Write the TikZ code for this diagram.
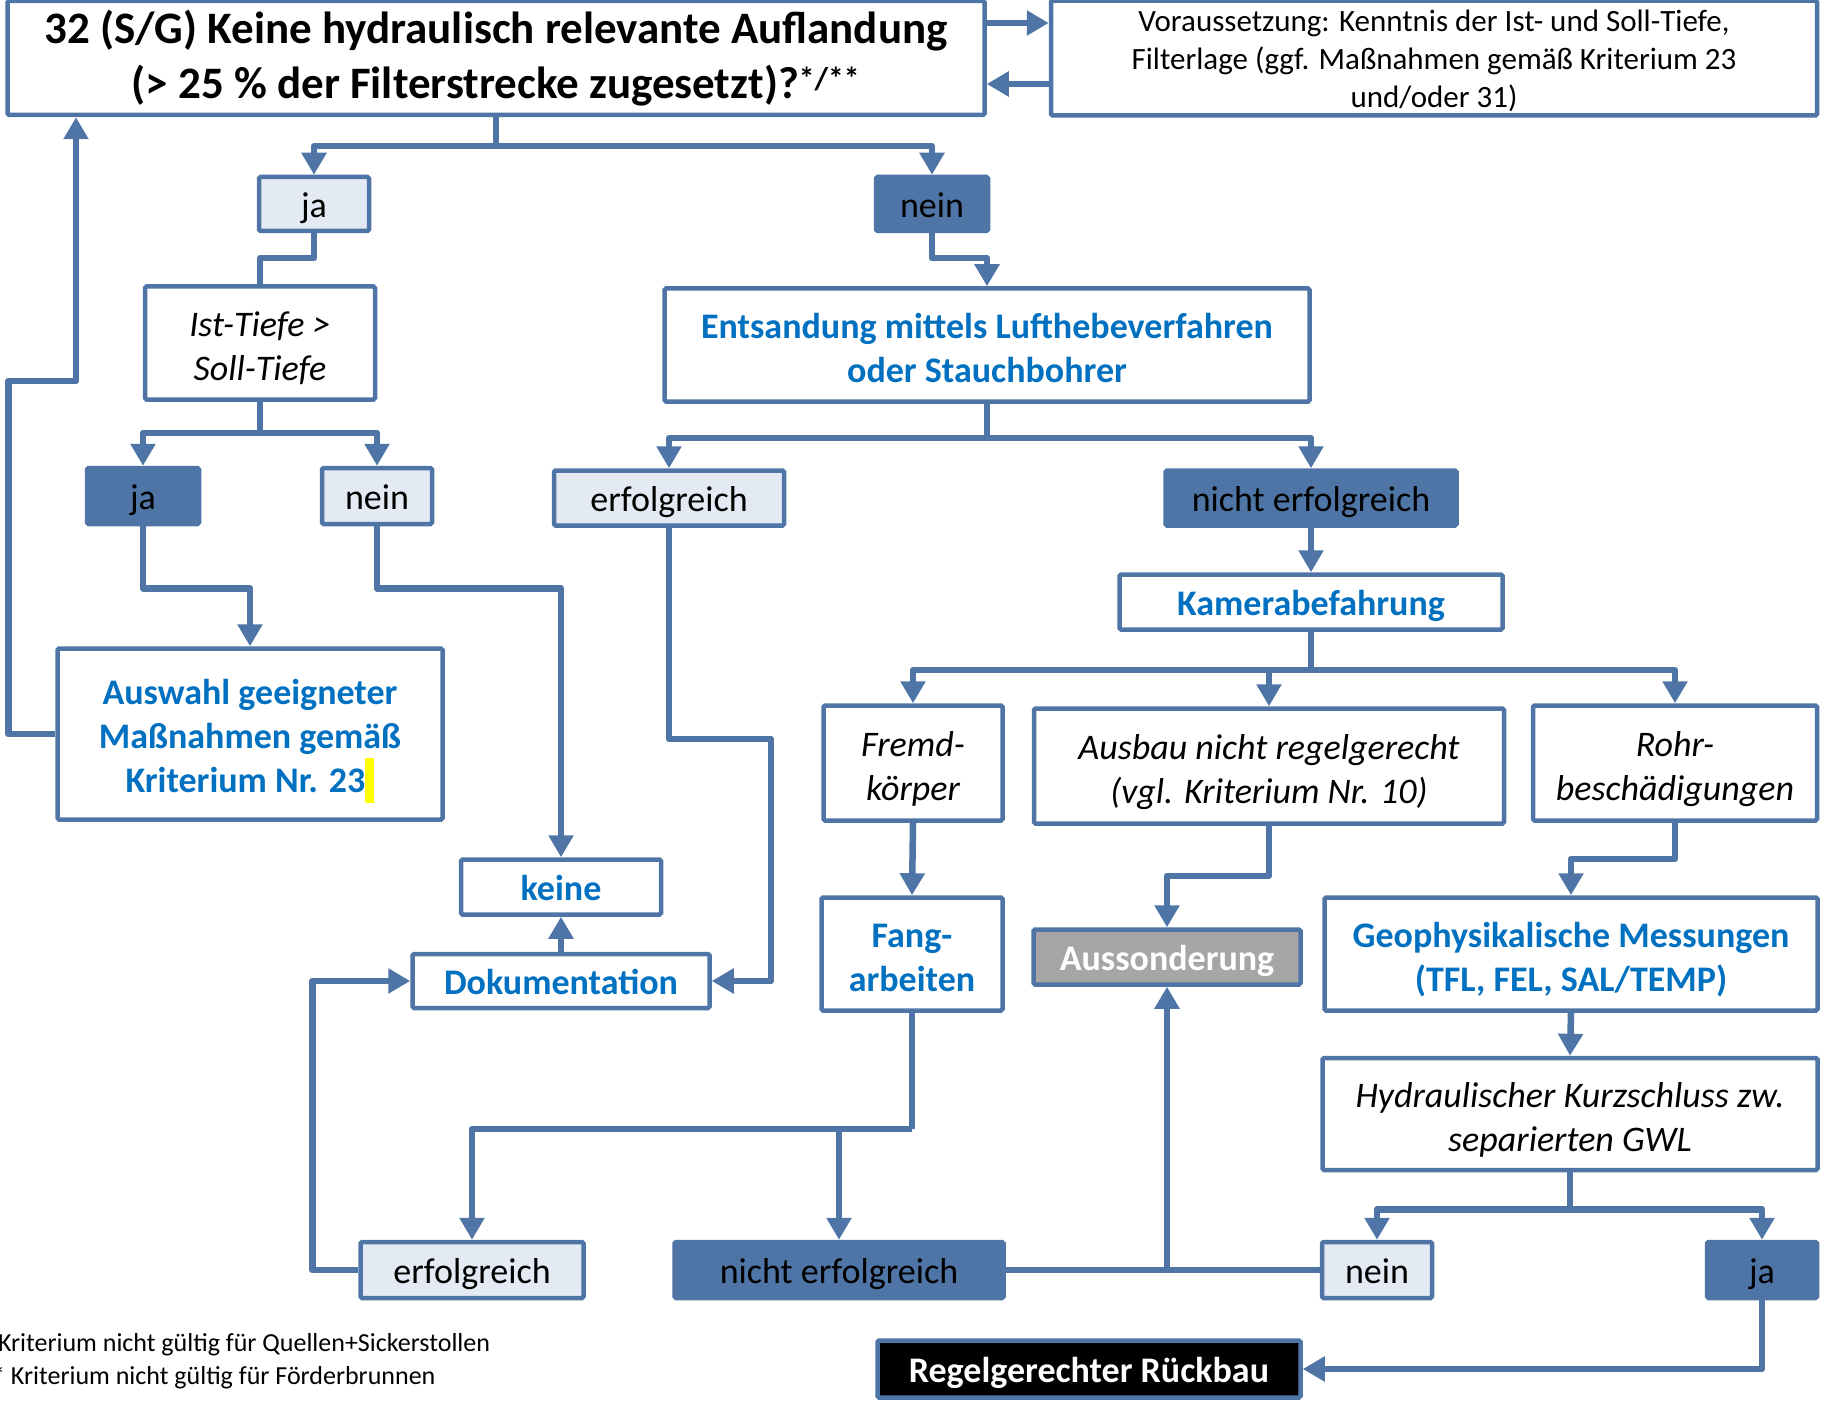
\documentclass[tikz,border=0pt]{standalone}
\usepackage{fontspec}
\setmainfont{Carlito}
\usetikzlibrary{arrows.meta,positioning}
\definecolor{lineBlue}{HTML}{4F75A6}
\definecolor{paleBlue}{HTML}{E4EAF3}
\definecolor{textBlue}{HTML}{0070C0}
\definecolor{greyFill}{HTML}{A6A6A6}
\definecolor{markYellow}{HTML}{FFFF00}
\newcommand{\boxfont}{\fontsize{36}{44}\selectfont}
\newcommand{\boxstrut}{\rule[-0.25em]{0pt}{1.25em}}
\newcommand{\topstrut}{\rule{0pt}{1.1em}}

\begin{document}
\begin{tikzpicture}[x=1pt,y=-1pt,>={Triangle[length=22pt,width=24pt]},
  box/.style={draw=lineBlue,line width=4.5pt,fill=white,rounded corners=1.5pt,
    inner sep=0pt,align=center,font=\boxfont,
    execute at begin node=\boxstrut,execute at end node=\boxstrut},
  wh/.style 2 args={minimum width=#1pt,minimum height=#2pt},
  paleBox/.style={box,fill=paleBlue},
  darkBox/.style={box,fill=lineBlue},
  blueBold/.style={text=textBlue,font=\boxfont\bfseries},
  slanted/.style={font=\boxfont\itshape},
  link/.style={draw=lineBlue,line width=6.5pt,line join=round}]
  \useasboundingbox (0,0) rectangle (1825,1404);

  % question and precondition
  \node[box,wh={977}{114},font=\fontsize{45}{55}\selectfont\bfseries,
    execute at begin node={},execute at end node={}] (title) at (496,58)
    {\rule{0pt}{0.85em}32 (S/G) Keine hydraulisch relevante Auflandung\\(> 25 \% der Filterstrecke zugesetzt)?\textsuperscript{*/**}};
  \node[box,wh={766}{114},font=\fontsize{31}{38}\selectfont] (vor) at (1434,58)
    {\boxstrut Voraussetzung: Kenntnis der Ist- und Soll-Tiefe,\\Filterlage (ggf. Maßnahmen gemäß Kriterium 23\\und/oder 31)};

  % left branch
  \node[paleBox,wh={110}{54}] (ja1) at (314,204) {ja};
  \node[box,slanted,wh={230}{113}] (ist) at (260,343) {\topstrut Ist-Tiefe >\\Soll-Tiefe};
  \node[darkBox,wh={112}{56}] (ja2) at (143,496) {ja};
  \node[paleBox,wh={110}{56}] (nein2) at (377,496) {nein};
  \node[box,blueBold,wh={385}{171}] (ausw) at (250,734)
    {\topstrut Auswahl geeigneter\\Maßnahmen gemäß\\Kriterium Nr. 23{\color{markYellow}\rule[-10pt]{9pt}{45pt}}};
  \node[box,blueBold,wh={200}{55}] (keine) at (561,887) {keine};
  \node[box,blueBold,wh={297}{54}] (doku) at (561,981) {Dokumentation};

  % right branch
  \node[darkBox,wh={112}{54}] (nein1) at (932,204) {nein};
  \node[box,blueBold,wh={645}{113}] (entsand) at (987,345)
    {\topstrut Entsandung mittels Lufthebeverfahren\\oder Stauchbohrer};
  \node[paleBox,wh={230}{55}] (erf1) at (669,498) {erfolgreich};
  \node[darkBox,wh={291}{55}] (nerf1) at (1311,498) {nicht erfolgreich};
  \node[box,blueBold,wh={383}{55}] (kamera) at (1311,602) {Kamerabefahrung};
  \node[box,slanted,wh={179}{115}] (fremd) at (913,763) {\topstrut Fremd-\\körper};
  \node[box,slanted,wh={470}{115}] (ausbau) at (1269,766)
    {\topstrut Ausbau nicht regelgerecht\\(vgl. Kriterium Nr. 10)};
  \node[box,slanted,wh={284}{115}] (rohr) at (1675,763) {\topstrut Rohr-\\beschädigungen};
  \node[box,blueBold,wh={181}{113}] (fang) at (912,954) {\topstrut Fang-\\arbeiten};
  \node[box,fill=greyFill,text=white,font=\boxfont\bfseries,wh={267}{55}] (ausson) at (1167,957)
    {Aussonderung};
  \node[box,blueBold,wh={493}{113}] (geo) at (1571,954)
    {\topstrut Geophysikalische Messungen\\(TFL, FEL, SAL/TEMP)};
  \node[box,slanted,wh={495}{112}] (hydr) at (1570,1114)
    {\topstrut Hydraulischer Kurzschluss zw.\\separierten GWL};
  \node[paleBox,wh={110}{56}] (nein3) at (1377,1270) {nein};
  \node[darkBox,wh={110}{56}] (ja3) at (1762,1270) {ja};
  \node[paleBox,wh={223}{56}] (erf2) at (472,1270) {erfolgreich};
  \node[darkBox,wh={329}{56}] (nerf2) at (839,1270) {nicht erfolgreich};
  \node[box,fill=black,text=white,font=\boxfont\bfseries,wh={423}{57}] (regel) at (1089,1369)
    {Regelgerechter Rückbau};

  % footnotes
  \node[anchor=west,inner sep=0pt,font=\fontsize{26}{33}\selectfont] (noteA) at (-21,1344)
    {* Kriterium nicht gültig für Quellen+Sickerstollen};
  \node[anchor=west,inner sep=0pt,font=\fontsize{26}{33}\selectfont] (noteB) at (-21,1377)
    {** Kriterium nicht gültig für Förderbrunnen};

  % connectors
  \coordinate (backTurn) at (76,381);
  \coordinate (erfBend) at (771,739);
  \draw[link,->] ([yshift=35pt]title.east) -- ([yshift=35pt]vor.west);
  \draw[link,->] ([yshift=-26pt]vor.west) -- ([yshift=-26pt]title.east);
  \draw[link] (title.south) -- ++(0,29) coordinate (splitA);
  \draw[link,->] (splitA) -| (ja1.north);
  \draw[link,->] (splitA) -| (nein1.north);
  \draw[link] (ja1.south) -- ++(0,25) -| (ist.north);
  \draw[link,->] (nein1.south) -- ++(0,25) -| (entsand.north);
  \draw[link] (ist.south) -- ++(0,31) coordinate (splitB);
  \draw[link,->] (splitB) -| (ja2.north);
  \draw[link,->] (splitB) -| (nein2.north);
  \draw[link,->] (ja2.south) -- ++(0,62) -| (ausw.north);
  \draw[link,->] (nein2.south) -- ++(0,62) -| (keine.north);
  \draw[link,->] (ausw.west) -- ++(-47,0) |- (backTurn) -- (backTurn |- title.south);
  \draw[link,->] (doku.north) -- (keine.south);
  \draw[link] (entsand.south) -- ++(0,34) coordinate (splitC);
  \draw[link,->] (splitC) -| (erf1.north);
  \draw[link,->] (splitC) -| (nerf1.north);
  \draw[link,->] (erf1.south) |- (erfBend) |- (doku.east);
  \draw[link,->] (nerf1.south) -- (kamera.north);
  \draw[link] (kamera.south) -- ++(0,38) coordinate (splitD);
  \draw[link,->] (splitD) -| (fremd.north);
  \draw[link,->] (splitD) -| (ausbau.north);
  \draw[link,->] (splitD) -| (rohr.north);
  \draw[link,->] (fremd.south) -- (fang.north);
  \draw[link,->] (ausbau.south) -- ++(0,50) -| (ausson.north);
  \draw[link,->] (rohr.south) -- ++(0,36) -| (geo.north);
  \draw[link,->] (geo.south) -- (hydr.north);
  \draw[link] (hydr.south) -- ++(0,37) coordinate (splitE);
  \draw[link,->] (splitE) -| (nein3.north);
  \draw[link,->] (splitE) -| (ja3.north);
  \draw[link] (fang.south) -- ++(0,116) coordinate (splitF);
  \draw[link,->] (splitF) -| (erf2.north);
  \draw[link,->] (splitF) -| (nerf2.north);
  \draw[link,->] (erf2.west) -- ++(-46,0) |- (doku.west);
  \draw[link] (nerf2.east) -- (nein3.west);
  \draw[link,->] (ausson.south |- nerf2.east) -- (ausson.south);
  \draw[link,->] (ja3.south) |- (regel.east);
\end{tikzpicture}
\end{document}
